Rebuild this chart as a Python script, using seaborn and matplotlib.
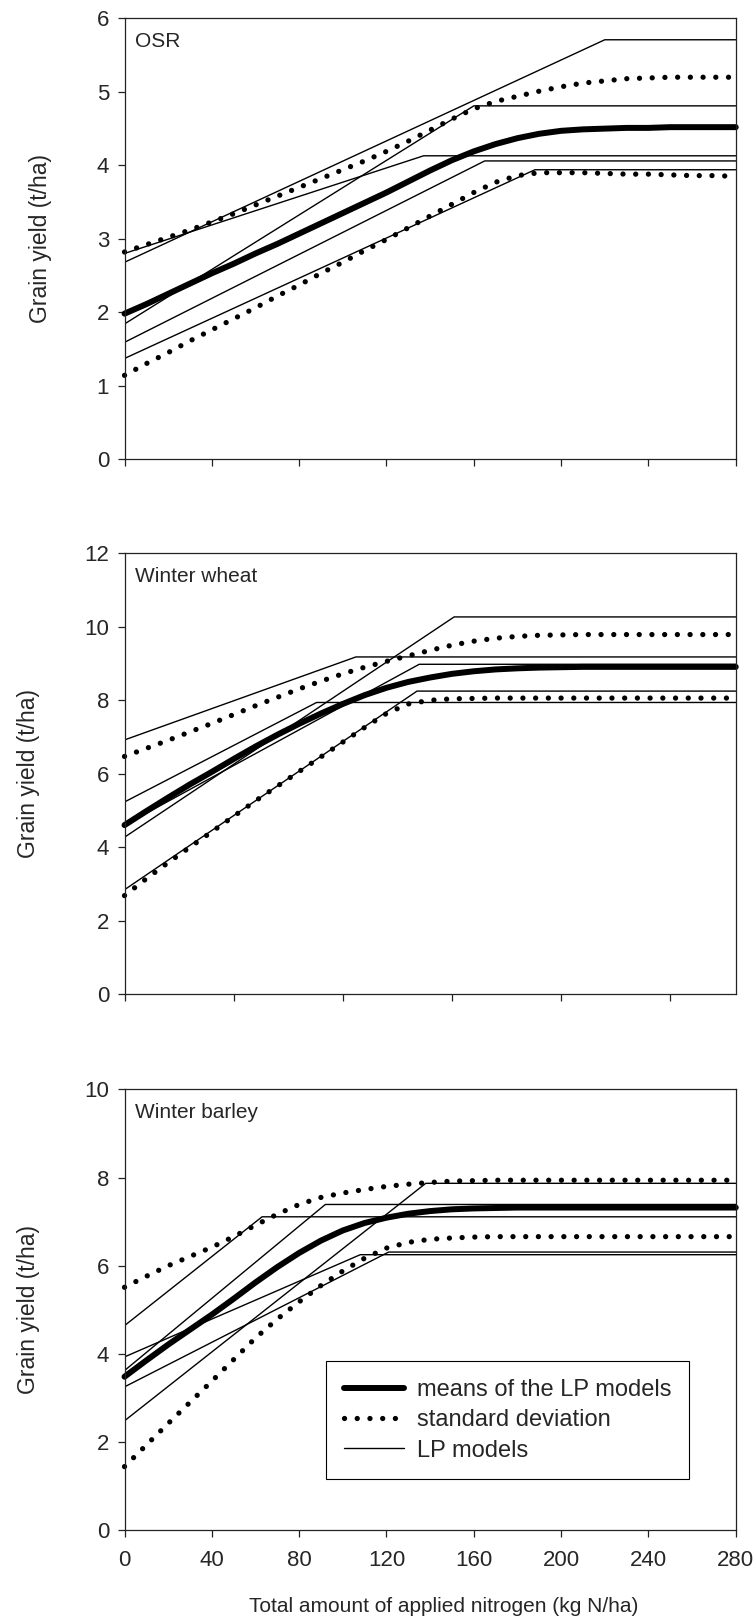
import matplotlib
matplotlib.use("Agg")
import matplotlib.pyplot as plt
import seaborn as sns
import pandas as pd

n_levels = list(range(0, 281, 10))
n_max = 280

# OSR
osr_mean = [1.98, 2.11, 2.25, 2.39, 2.53, 2.66, 2.80, 2.93, 3.07, 3.21,
            3.35, 3.49, 3.63, 3.78, 3.93, 4.07, 4.19, 4.29, 4.37, 4.43,
            4.47, 4.49, 4.50, 4.51, 4.51, 4.52, 4.52, 4.52, 4.52]
osr_upper = [2.82, 2.92, 3.02, 3.12, 3.23, 3.34, 3.46, 3.58, 3.70, 3.82,
             3.94, 4.06, 4.19, 4.33, 4.48, 4.63, 4.77, 4.87, 4.94, 5.01,
             5.07, 5.12, 5.15, 5.18, 5.19, 5.20, 5.20, 5.20, 5.20]
osr_lower = [1.14, 1.30, 1.45, 1.61, 1.76, 1.91, 2.06, 2.22, 2.37, 2.53,
             2.68, 2.84, 2.99, 3.15, 3.31, 3.47, 3.63, 3.77, 3.86, 3.90,
             3.90, 3.90, 3.89, 3.88, 3.88, 3.87, 3.86, 3.86, 3.85]
osr_lp_start = [2.68, 2.80, 1.84, 1.59, 1.37]
osr_lp_break = [220, 137, 160, 165, 188]
osr_lp_plateau = [5.71, 4.13, 4.81, 4.06, 3.94]

# Winter wheat
ww_mean = [4.60, 4.98, 5.35, 5.71, 6.05, 6.40, 6.74, 7.06, 7.36, 7.64,
           7.90, 8.14, 8.34, 8.50, 8.62, 8.72, 8.79, 8.84, 8.87, 8.89,
           8.90, 8.91, 8.91, 8.91, 8.91, 8.91, 8.91, 8.91, 8.91]
ww_upper = [6.47, 6.69, 6.91, 7.14, 7.37, 7.61, 7.85, 8.08, 8.31, 8.52,
            8.72, 8.90, 9.06, 9.21, 9.36, 9.50, 9.61, 9.69, 9.74, 9.77,
            9.78, 9.79, 9.79, 9.79, 9.79, 9.79, 9.79, 9.79, 9.79]
ww_lower = [2.68, 3.14, 3.58, 4.00, 4.42, 4.84, 5.26, 5.66, 6.06, 6.46,
            6.86, 7.26, 7.64, 7.90, 8.00, 8.04, 8.05, 8.06, 8.06, 8.06,
            8.06, 8.06, 8.06, 8.06, 8.06, 8.06, 8.06, 8.06, 8.06]
ww_lp_start = [6.92, 5.23, 4.60, 4.27, 2.84]
ww_lp_break = [106, 88, 135, 151, 134]
ww_lp_plateau = [9.18, 7.94, 8.98, 10.27, 8.25]

# Winter barley
wb_mean = [3.48, 3.85, 4.21, 4.55, 4.89, 5.25, 5.62, 5.97, 6.29, 6.57,
           6.80, 6.97, 7.09, 7.18, 7.24, 7.28, 7.30, 7.31, 7.32, 7.32,
           7.32, 7.32, 7.32, 7.32, 7.32, 7.32, 7.32, 7.32, 7.32]
wb_upper = [5.51, 5.76, 6.00, 6.21, 6.42, 6.66, 6.92, 7.17, 7.39, 7.55,
            7.65, 7.73, 7.80, 7.85, 7.89, 7.92, 7.93, 7.94, 7.94, 7.94,
            7.94, 7.94, 7.94, 7.94, 7.94, 7.94, 7.94, 7.94, 7.94]
wb_lower = [1.44, 1.93, 2.42, 2.90, 3.38, 3.87, 4.36, 4.79, 5.18, 5.55,
            5.88, 6.17, 6.40, 6.53, 6.60, 6.63, 6.65, 6.66, 6.66, 6.66,
            6.66, 6.66, 6.66, 6.66, 6.66, 6.66, 6.66, 6.66, 6.66]
wb_lp_start = [4.64, 3.62, 3.93, 3.25, 2.48]
wb_lp_break = [63, 92, 108, 121, 138]
wb_lp_plateau = [7.11, 7.39, 6.25, 6.31, 7.87]

crop_names = ["OSR", "Winter wheat", "Winter barley"]
y_max = [6, 12, 10]
y_step = [1, 2, 2]

sns.set_style("ticks")
plt.rcParams["font.family"] = ["Liberation Sans", "DejaVu Sans"]
plt.rcParams["font.size"] = 15


def lp_frame(starts, breaks, plateaus):
    # linear-plateau model: rises from intercept to the break point, flat afterwards
    rows = []
    for i, (a, b, p) in enumerate(zip(starts, breaks, plateaus)):
        rows += [(i, 0, a), (i, b, p), (i, n_max, p)]
    return pd.DataFrame(rows, columns=["model", "N", "yield"])


panels = [
    (lp_frame(osr_lp_start, osr_lp_break, osr_lp_plateau),
     pd.DataFrame({"N": n_levels, "mean": osr_mean, "upper": osr_upper, "lower": osr_lower})),
    (lp_frame(ww_lp_start, ww_lp_break, ww_lp_plateau),
     pd.DataFrame({"N": n_levels, "mean": ww_mean, "upper": ww_upper, "lower": ww_lower})),
    (lp_frame(wb_lp_start, wb_lp_break, wb_lp_plateau),
     pd.DataFrame({"N": n_levels, "mean": wb_mean, "upper": wb_upper, "lower": wb_lower})),
]

fig = plt.figure(figsize=(7.56, 16.21), dpi=100)
bottoms = [0.7168, 0.3868, 0.0561]
dots = (0, (0.01, 2.4))

for k, (lp, curves) in enumerate(panels):
    ax = fig.add_axes([0.1647, bottoms[k], 0.8085, 0.2718])

    sns.lineplot(data=lp, x="N", y="yield", units="model", estimator=None,
                 color="black", lw=1.0, ax=ax, legend=False)
    for col in ["upper", "lower"]:
        sns.lineplot(data=curves, x="N", y=col, estimator=None, color="black",
                     lw=3.8, linestyle=dots, dash_capstyle="round",
                     clip_on=False, ax=ax, legend=False)
    sns.lineplot(data=curves, x="N", y="mean", estimator=None, color="black",
                 lw=4.3, solid_capstyle="round", solid_joinstyle="round",
                 clip_on=False, ax=ax, legend=False)

    ax.set_xlim(0, n_max)
    ax.set_ylim(0, y_max[k])
    ax.set_yticks(range(0, y_max[k] + 1, y_step[k]))
    ax.set_xticks(range(0, 251, 50) if k == 1 else range(0, n_max + 1, 40))
    ax.tick_params(direction="out", length=5, width=0.9, color="#222222", labelsize=16)
    ax.tick_params(axis="y", pad=6)
    ax.tick_params(axis="x", pad=9)
    for s in ax.spines.values():
        s.set_color("#222222")
        s.set_linewidth(0.9)

    ax.set_ylabel("Grain yield (t/ha)", labelpad=32, fontsize=16.5)
    if k < 2:
        ax.set_xticklabels([])
        ax.set_xlabel("")
    else:
        ax.set_xlabel("Total amount of applied nitrogen (kg N/ha)", fontsize=15)
        ax.xaxis.set_label_coords(0.522, -0.152)

    ax.text(0.017, 0.948, crop_names[k], transform=ax.transAxes,
            ha="left", va="center", fontsize=15)

    if k == 2:
        # lines: 5 LP models, upper sd, lower sd, mean
        handles = [ax.lines[7], ax.lines[5], ax.lines[0]]
        labels = ["means of the LP models", "standard deviation", "LP models"]
        leg = ax.legend(handles, labels, loc="upper left", bbox_to_anchor=(0.33, 0.383),
                        borderaxespad=0, frameon=True, fancybox=False, edgecolor="black",
                        framealpha=1, handlelength=2.55, handletextpad=0.55,
                        borderpad=0.75, labelspacing=0.35, fontsize=17)
        leg.get_frame().set_linewidth(0.8)

fig.savefig("out.png", dpi=100)
